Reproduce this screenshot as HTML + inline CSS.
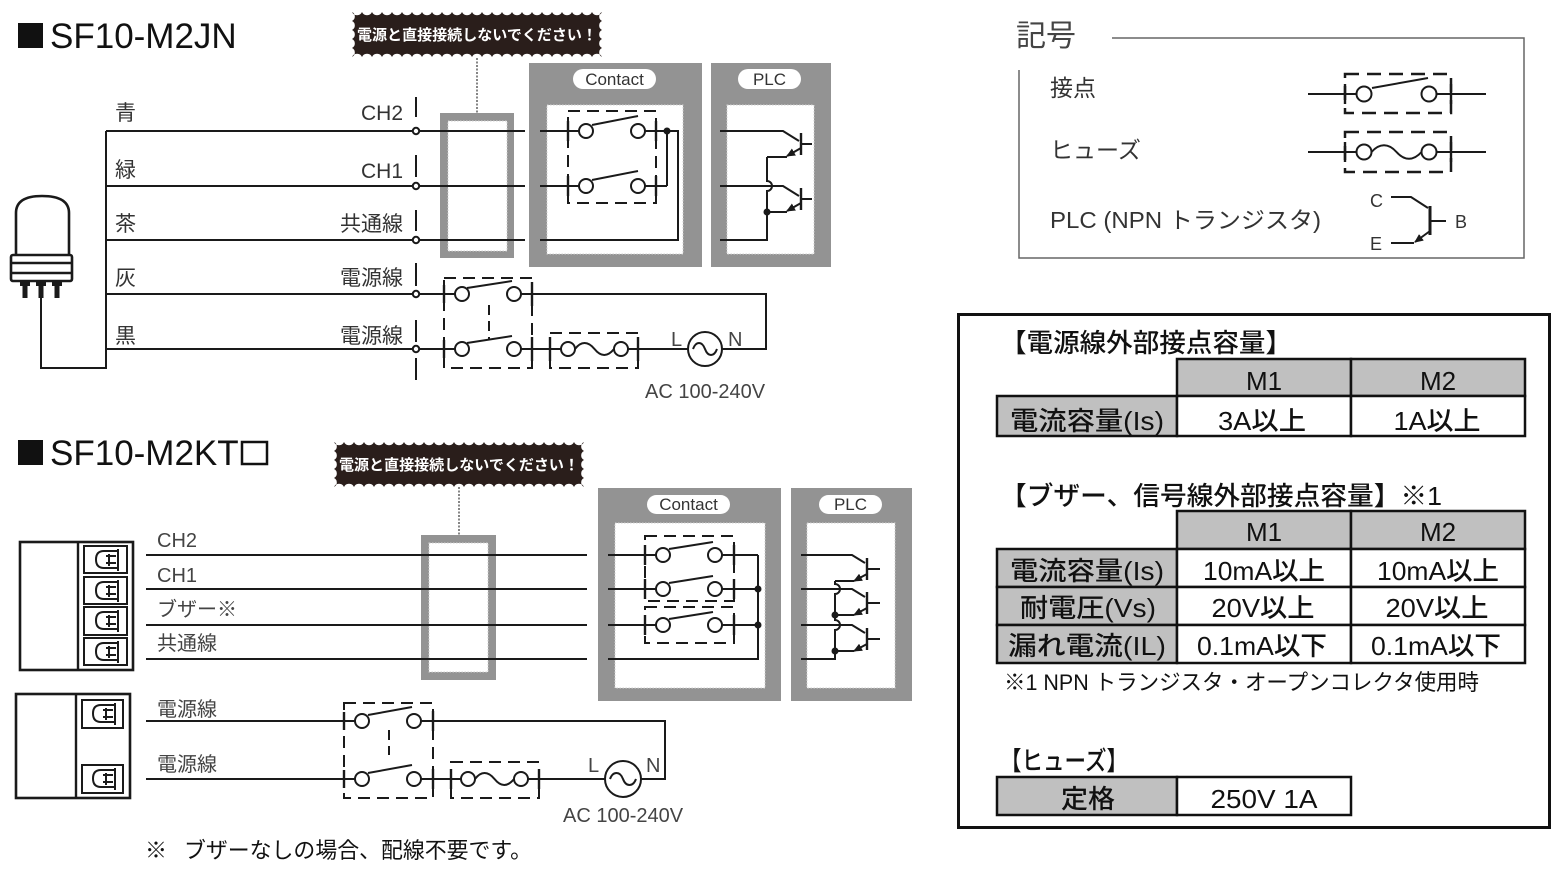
<!DOCTYPE html>
<html><head><meta charset="utf-8">
<style>
html,body{margin:0;padding:0;background:#fff;}
svg{display:block;}
text{font-family:"Liberation Sans","Noto Sans CJK JP",sans-serif;}
.w{fill:none;stroke:#1a1a1a;stroke-width:2;}
.t{fill:none;stroke:#1a1a1a;stroke-width:2.4;}
.d{fill:none;stroke:#1a1a1a;stroke-width:2;stroke-dasharray:12 7;}
.c{fill:#fff;stroke:#1a1a1a;stroke-width:2;}
.g{fill:#939393;}
.in{fill:#fff;stroke:#d0d0d0;stroke-width:1;stroke-dasharray:1.5 1.5;}
.lb{font-size:21px;fill:#333;}
.lb2{font-size:20px;fill:#444;}
.bub{fill:#2a1e1b;}
.bt{font-size:15px;font-weight:bold;fill:#fff;}
.pill{fill:#fff;}
.pt{font-size:17px;fill:#333;}
.tb{stroke:#111;stroke-width:2.5;}
.gc{fill:#c0c0c0;}
.wc{fill:#fff;}
.tt{font-size:26px;fill:#111;font-weight:500;}
.lg{font-size:23px;fill:#333;}
</style></head><body>
<svg width="1562" height="880" viewBox="0 0 1562 880" xmlns="http://www.w3.org/2000/svg">
<defs>
<marker id="ar" markerWidth="9" markerHeight="8" refX="8" refY="4" orient="auto" markerUnits="userSpaceOnUse"><path d="M0,0L9,4L0,8Z" fill="#1a1a1a"/></marker>
<marker id="ad" markerWidth="7" markerHeight="6" refX="6" refY="3" orient="auto" markerUnits="userSpaceOnUse"><path d="M0,0L7,3L0,6Z" fill="#444"/></marker>
</defs>
<rect width="1562" height="880" fill="#fff"/>

<!-- ===== TOP TITLE ===== -->
<rect x="18" y="23" width="25" height="25" fill="#111"/>
<text x="50" y="48" font-size="35" fill="#111">SF10-M2JN</text>

<!-- bubble 1 -->
<path class="bub" d="M352,12
a5.5 5.5 0 0 0 10 0a5.5 5.5 0 0 0 10 0a5.5 5.5 0 0 0 10 0a5.5 5.5 0 0 0 10 0a5.5 5.5 0 0 0 10 0
a5.5 5.5 0 0 0 10 0a5.5 5.5 0 0 0 10 0a5.5 5.5 0 0 0 10 0a5.5 5.5 0 0 0 10 0a5.5 5.5 0 0 0 10 0
a5.5 5.5 0 0 0 10 0a5.5 5.5 0 0 0 10 0a5.5 5.5 0 0 0 10 0a5.5 5.5 0 0 0 10 0a5.5 5.5 0 0 0 10 0
a5.5 5.5 0 0 0 10 0a5.5 5.5 0 0 0 10 0a5.5 5.5 0 0 0 10 0a5.5 5.5 0 0 0 10 0a5.5 5.5 0 0 0 10 0
a5.5 5.5 0 0 0 10 0a5.5 5.5 0 0 0 10 0a5.5 5.5 0 0 0 10 0a5.5 5.5 0 0 0 10 0a5.5 5.5 0 0 0 10 0
a5 5 0 0 0 0 9a5 5 0 0 0 0 9a5 5 0 0 0 0 9a5 5 0 0 0 0 9a5 5 0 0 0 0 9
a5.5 5.5 0 0 0 -10 0a5.5 5.5 0 0 0 -10 0a5.5 5.5 0 0 0 -10 0a5.5 5.5 0 0 0 -10 0a5.5 5.5 0 0 0 -10 0
a5.5 5.5 0 0 0 -10 0a5.5 5.5 0 0 0 -10 0a5.5 5.5 0 0 0 -10 0a5.5 5.5 0 0 0 -10 0a5.5 5.5 0 0 0 -10 0
a5.5 5.5 0 0 0 -10 0a5.5 5.5 0 0 0 -10 0a5.5 5.5 0 0 0 -10 0a5.5 5.5 0 0 0 -10 0a5.5 5.5 0 0 0 -10 0
a5.5 5.5 0 0 0 -10 0a5.5 5.5 0 0 0 -10 0a5.5 5.5 0 0 0 -10 0a5.5 5.5 0 0 0 -10 0a5.5 5.5 0 0 0 -10 0
a5.5 5.5 0 0 0 -10 0a5.5 5.5 0 0 0 -10 0a5.5 5.5 0 0 0 -10 0a5.5 5.5 0 0 0 -10 0a5.5 5.5 0 0 0 -10 0
a5 5 0 0 0 0 -9a5 5 0 0 0 0 -9a5 5 0 0 0 0 -9a5 5 0 0 0 0 -9a5 5 0 0 0 0 -9Z"/>
<text class="bt" x="477" y="40" text-anchor="middle" textLength="240" lengthAdjust="spacingAndGlyphs">電源と直接接続しないでください！</text>
<line x1="477" y1="58" x2="477" y2="120" stroke="#444" stroke-width="1.3" stroke-dasharray="2 1.5" marker-end="url(#ad)"/>

<!-- lamp -->
<path d="M16,255 V213 Q16,196 42,196 Q69,196 69,213 V255" fill="#fff" stroke="#1a1a1a" stroke-width="2.6"/>
<rect x="11" y="255" width="61" height="26" rx="2" fill="#fff" stroke="#1a1a1a" stroke-width="2.6"/>
<line x1="11" y1="263" x2="72" y2="263" stroke="#1a1a1a" stroke-width="2.4"/>
<line x1="11" y1="273" x2="72" y2="273" stroke="#1a1a1a" stroke-width="2.4"/>
<rect x="20" y="282" width="10" height="4" fill="#1a1a1a"/><rect x="22.5" y="285" width="5" height="13" fill="#1a1a1a"/>
<rect x="36" y="282" width="10" height="4" fill="#1a1a1a"/><rect x="38.5" y="285" width="5" height="13" fill="#1a1a1a"/>
<rect x="52" y="282" width="10" height="4" fill="#1a1a1a"/><rect x="54.5" y="285" width="5" height="13" fill="#1a1a1a"/>
<path class="w" d="M41,298 V368 H106 V131"/>

<!-- top wires -->
<path class="w" d="M106,131 H413 M106,186 H413 M106,240 H413 M106,294 H413 M106,349 H413"/>
<text class="lb" x="115" y="120">青</text>
<text class="lb" x="115" y="177">緑</text>
<text class="lb" x="115" y="231">茶</text>
<text class="lb" x="115" y="285">灰</text>
<text class="lb" x="115" y="343">黒</text>
<text class="lb" x="403" y="120" text-anchor="end">CH2</text>
<text class="lb" x="403" y="178" text-anchor="end">CH1</text>
<text class="lb" x="403" y="231" text-anchor="end">共通線</text>
<text class="lb" x="403" y="285" text-anchor="end">電源線</text>
<text class="lb" x="403" y="343" text-anchor="end">電源線</text>
<path class="w" d="M416,97 V117 M416,155 V177 M416,210 V231 M416,263 V286 M416,320 V342 M416,358 V380"/>

<!-- gray box 1 -->
<rect class="g" x="440" y="113" width="74" height="145"/>
<rect class="in" x="448" y="121" width="59" height="130"/>
<!-- contact box -->
<rect class="g" x="529" y="63" width="173" height="204"/>
<rect class="in" x="547" y="105" width="136" height="149"/>
<rect class="pill" x="573" y="69" width="83" height="20" rx="10"/>
<text class="pt" x="614.5" y="85" text-anchor="middle">Contact</text>
<!-- plc box -->
<rect class="g" x="711" y="63" width="120" height="204"/>
<rect class="in" x="727" y="105" width="87" height="149"/>
<rect class="pill" x="738" y="69" width="63" height="20" rx="10"/>
<text class="pt" x="769.5" y="85" text-anchor="middle">PLC</text>

<path class="w" d="M419,131 H525 M419,186 H525 M419,240 H525"/>
<circle class="c" cx="416" cy="131" r="3.2"/>
<circle class="c" cx="416" cy="186" r="3.2"/>
<circle class="c" cx="416" cy="240" r="3.2"/>
<circle class="c" cx="416" cy="294" r="3.2"/>
<circle class="c" cx="416" cy="349" r="3.2"/>

<!-- top contacts -->
<rect class="d" x="568" y="111" width="88" height="92"/>
<path class="w" d="M540,131 H579 M645,131 H678 V240 H540 M667,131 V186 M540,186 H579 M645,186 H667"/>
<path class="w" d="M592,125 L638,116 M592,180 L638,171"/>
<path class="t" d="M568,121 V141 M568,176 V196 M656,121 V141 M656,176 V196"/>
<circle class="c" cx="586" cy="131" r="7"/><circle class="c" cx="638" cy="131" r="7"/>
<circle class="c" cx="586" cy="186" r="7"/><circle class="c" cx="638" cy="186" r="7"/>
<circle cx="667" cy="131" r="3.5" fill="#1a1a1a"/>

<!-- top PLC -->
<path class="w" d="M720,131 H783 L799,141 M801,144 H812 M720,186 H783 L799,196 M801,199 H812"/>
<path class="t" d="M801,133 V155 M801,188 V210"/>
<path class="w" d="M801,148 L787,156" marker-end="url(#ar)"/>
<path class="w" d="M801,203 L787,211" marker-end="url(#ar)"/>
<path class="w" d="M787,157 H767 M787,212 H767 M767,157 V181 a5 5 0 0 1 0 10 V240 H720"/>
<circle cx="767" cy="212" r="3.5" fill="#1a1a1a"/>

<!-- top power -->
<rect class="d" x="444" y="278" width="88" height="90"/>
<line x1="489" y1="305" x2="489" y2="340" stroke="#1a1a1a" stroke-width="2" stroke-dasharray="10 6"/>
<rect class="d" x="550" y="333" width="88" height="35"/>
<path class="w" d="M419,294 H455 M521,294 H766 V349 H722 M419,349 H455 M521,349 H561 M628,349 H688"/>
<path class="w" d="M467,288 L512,281 M467,343 L512,336"/>
<path class="t" d="M444,285 V303 M532,282 V306 M444,340 V358 M532,337 V361 M550,337 V361 M638,337 V361"/>
<circle class="c" cx="462" cy="294" r="7"/><circle class="c" cx="514" cy="294" r="7"/>
<circle class="c" cx="462" cy="349" r="7"/><circle class="c" cx="514" cy="349" r="7"/>
<circle class="c" cx="568" cy="349" r="7"/><circle class="c" cx="621" cy="349" r="7"/>
<path class="w" d="M575,349 c6,-8 13,-8 19.5,0 s13,8 19.5,0"/>
<circle class="c" cx="705" cy="349" r="17"/>
<path class="w" d="M693,349 c3,-8 9,-8 12,0 s9,8 12,0"/>
<text class="lb2" x="671" y="346" font-size="19">L</text>
<text class="lb2" x="728" y="346" font-size="19">N</text>
<text class="lb2" x="645" y="398" font-size="20">AC 100-240V</text>

<!-- ===== BOTTOM TITLE ===== -->
<rect x="18" y="440" width="25" height="25" fill="#111"/>
<text x="50" y="465" font-size="35" fill="#111">SF10-M2KT</text>
<rect x="242" y="442" width="25" height="22" fill="none" stroke="#111" stroke-width="2.5"/>

<!-- bubble 2 -->
<path class="bub" d="M334,442
a5.5 5.5 0 0 0 10 0a5.5 5.5 0 0 0 10 0a5.5 5.5 0 0 0 10 0a5.5 5.5 0 0 0 10 0a5.5 5.5 0 0 0 10 0
a5.5 5.5 0 0 0 10 0a5.5 5.5 0 0 0 10 0a5.5 5.5 0 0 0 10 0a5.5 5.5 0 0 0 10 0a5.5 5.5 0 0 0 10 0
a5.5 5.5 0 0 0 10 0a5.5 5.5 0 0 0 10 0a5.5 5.5 0 0 0 10 0a5.5 5.5 0 0 0 10 0a5.5 5.5 0 0 0 10 0
a5.5 5.5 0 0 0 10 0a5.5 5.5 0 0 0 10 0a5.5 5.5 0 0 0 10 0a5.5 5.5 0 0 0 10 0a5.5 5.5 0 0 0 10 0
a5.5 5.5 0 0 0 10 0a5.5 5.5 0 0 0 10 0a5.5 5.5 0 0 0 10 0a5.5 5.5 0 0 0 10 0a5.5 5.5 0 0 0 10 0
a5 5 0 0 0 0 9a5 5 0 0 0 0 9a5 5 0 0 0 0 9a5 5 0 0 0 0 9a5 5 0 0 0 0 9
a5.5 5.5 0 0 0 -10 0a5.5 5.5 0 0 0 -10 0a5.5 5.5 0 0 0 -10 0a5.5 5.5 0 0 0 -10 0a5.5 5.5 0 0 0 -10 0
a5.5 5.5 0 0 0 -10 0a5.5 5.5 0 0 0 -10 0a5.5 5.5 0 0 0 -10 0a5.5 5.5 0 0 0 -10 0a5.5 5.5 0 0 0 -10 0
a5.5 5.5 0 0 0 -10 0a5.5 5.5 0 0 0 -10 0a5.5 5.5 0 0 0 -10 0a5.5 5.5 0 0 0 -10 0a5.5 5.5 0 0 0 -10 0
a5.5 5.5 0 0 0 -10 0a5.5 5.5 0 0 0 -10 0a5.5 5.5 0 0 0 -10 0a5.5 5.5 0 0 0 -10 0a5.5 5.5 0 0 0 -10 0
a5.5 5.5 0 0 0 -10 0a5.5 5.5 0 0 0 -10 0a5.5 5.5 0 0 0 -10 0a5.5 5.5 0 0 0 -10 0a5.5 5.5 0 0 0 -10 0
a5 5 0 0 0 0 -9a5 5 0 0 0 0 -9a5 5 0 0 0 0 -9a5 5 0 0 0 0 -9a5 5 0 0 0 0 -9Z"/>
<text class="bt" x="459" y="470" text-anchor="middle" textLength="240" lengthAdjust="spacingAndGlyphs">電源と直接接続しないでください！</text>
<line x1="459" y1="487" x2="459" y2="543" stroke="#444" stroke-width="1.3" stroke-dasharray="2 1.5" marker-end="url(#ad)"/>

<!-- connector blocks -->
<rect x="20" y="542" width="113" height="128" fill="#fff" stroke="#1a1a1a" stroke-width="2.6"/>
<line x1="78" y1="542" x2="78" y2="670" stroke="#1a1a1a" stroke-width="2.4"/>
<g fill="none" stroke="#1a1a1a" stroke-width="2">
<rect x="84" y="546" width="43" height="27"/><rect x="84" y="577" width="43" height="27"/><rect x="84" y="607" width="43" height="28"/><rect x="84" y="638" width="43" height="27"/>
<path d="M118,551 H104 Q96,551 96,559.5 Q96,568 104,568 H118 Z M106,556 H116 M106,563 H116 M109,554 V566 M118,549 V571"/>
<path d="M118,582 H104 Q96,582 96,590.5 Q96,599 104,599 H118 Z M106,587 H116 M106,594 H116 M109,585 V597 M118,580 V602"/>
<path d="M118,612 H104 Q96,612 96,620.5 Q96,629 104,629 H118 Z M106,617 H116 M106,624 H116 M109,615 V627 M118,610 V632"/>
<path d="M118,643 H104 Q96,643 96,651.5 Q96,660 104,660 H118 Z M106,648 H116 M106,655 H116 M109,646 V658 M118,641 V663"/>
</g>
<rect x="16" y="694" width="114" height="104" fill="#fff" stroke="#1a1a1a" stroke-width="2.6"/>
<line x1="76" y1="694" x2="76" y2="798" stroke="#1a1a1a" stroke-width="2.4"/>
<g fill="none" stroke="#1a1a1a" stroke-width="2">
<rect x="82" y="700" width="41" height="28"/><rect x="82" y="765" width="41" height="28"/>
<path d="M115,705 H101 Q93,705 93,713.5 Q93,722 101,722 H115 Z M103,710 H113 M103,717 H113 M106,708 V720 M115,703 V725"/>
<path d="M115,770 H101 Q93,770 93,778.5 Q93,787 101,787 H115 Z M103,775 H113 M103,782 H113 M106,773 V785 M115,768 V790"/>
</g>

<!-- bottom gray box -->
<rect class="g" x="421" y="535" width="75" height="145"/>
<rect class="in" x="429" y="543" width="59" height="129"/>
<path class="w" d="M146,555 H587 M146,589 H587 M146,625 H587 M146,659 H587"/>
<text class="lb2" x="157" y="547">CH2</text>
<text class="lb2" x="157" y="582">CH1</text>
<text class="lb2" x="157" y="616">ブザー※</text>
<text class="lb2" x="157" y="650">共通線</text>

<!-- bottom contact box -->
<rect class="g" x="598" y="488" width="183" height="213"/>
<rect class="in" x="615" y="523" width="150" height="165"/>
<rect class="pill" x="647" y="495" width="83" height="19" rx="9.5"/>
<text class="pt" x="688.5" y="510" text-anchor="middle">Contact</text>
<rect class="g" x="791" y="488" width="121" height="213"/>
<rect class="in" x="807" y="523" width="88" height="165"/>
<rect class="pill" x="819" y="495" width="63" height="19" rx="9.5"/>
<text class="pt" x="850.5" y="510" text-anchor="middle">PLC</text>

<rect class="d" x="645" y="536" width="89" height="65"/>
<rect class="d" x="645" y="607" width="89" height="36"/>
<path class="w" d="M608,555 H656 M722,555 H758 M608,589 H656 M722,589 H758 M608,625 H656 M722,625 H758 M758,555 V659 H608"/>
<path class="w" d="M669,549 L713,542 M669,583 L713,576 M669,619 L713,612"/>
<path class="t" d="M645,545 V565 M645,579 V599 M645,615 V635 M734,545 V565 M734,579 V599 M734,615 V635"/>
<circle class="c" cx="663" cy="555" r="7"/><circle class="c" cx="715" cy="555" r="7"/>
<circle class="c" cx="663" cy="589" r="7"/><circle class="c" cx="715" cy="589" r="7"/>
<circle class="c" cx="663" cy="625" r="7"/><circle class="c" cx="715" cy="625" r="7"/>
<circle cx="758" cy="589" r="3.5" fill="#1a1a1a"/><circle cx="758" cy="625" r="3.5" fill="#1a1a1a"/>

<!-- bottom PLC -->
<path class="w" d="M801,555 H852 L865,563 M867,569 H880 M801,589 H852 L865,597 M867,603 H880 M801,625 H852 L865,633 M867,639 H880"/>
<path class="t" d="M867,558 V580 M867,592 V614 M867,628 V650"/>
<path class="w" d="M867,574 L854,581" marker-end="url(#ar)"/>
<path class="w" d="M867,608 L854,615" marker-end="url(#ar)"/>
<path class="w" d="M867,644 L854,651" marker-end="url(#ar)"/>
<path class="w" d="M854,581 H835 M854,615 H835 M854,651 H835 M835,581 V584 a5 5 0 0 1 0 10 V620 a5 5 0 0 1 0 10 V659 H801"/>
<circle cx="835" cy="615" r="3.5" fill="#1a1a1a"/><circle cx="835" cy="651" r="3.5" fill="#1a1a1a"/>

<!-- bottom power -->
<text class="lb2" x="157" y="716" font-size="21">電源線</text>
<text class="lb2" x="157" y="771" font-size="21">電源線</text>
<rect class="d" x="344" y="703" width="89" height="95"/>
<line x1="389" y1="730" x2="389" y2="755" stroke="#1a1a1a" stroke-width="2" stroke-dasharray="10 6"/>
<rect class="d" x="451" y="762" width="88" height="36"/>
<path class="w" d="M146,721 H355 M421,721 H665 V779 H641 M146,779 H355 M421,779 H461 M528,779 H605"/>
<path class="w" d="M368,715 L412,707 M368,773 L412,765"/>
<path class="t" d="M344,712 V730 M433,711 V731 M344,770 V788 M433,769 V789 M451,769 V789 M539,769 V789"/>
<circle class="c" cx="362" cy="721" r="7"/><circle class="c" cx="414" cy="721" r="7"/>
<circle class="c" cx="362" cy="779" r="7"/><circle class="c" cx="414" cy="779" r="7"/>
<circle class="c" cx="468" cy="779" r="7"/><circle class="c" cx="521" cy="779" r="7"/>
<path class="w" d="M475,779 c6,-8 13,-8 19.5,0 s13,8 19.5,0"/>
<circle class="c" cx="623" cy="779" r="18"/>
<path class="w" d="M610,779 c3,-8 10,-8 13,0 s10,8 13,0"/>
<text class="lb2" x="588" y="772" font-size="19">L</text>
<text class="lb2" x="646" y="772" font-size="19">N</text>
<text class="lb2" x="563" y="822" font-size="20">AC 100-240V</text>

<text x="145" y="858" font-size="22" fill="#111">※</text>
<text x="184" y="858" font-size="22" fill="#111" textLength="348" lengthAdjust="spacingAndGlyphs">ブザーなしの場合、配線不要です。</text>

<!-- ===== LEGEND ===== -->
<text x="1016" y="46" font-size="30" fill="#444">記号</text>
<path d="M1112,38 H1524 V258 H1019 V70" fill="none" stroke="#666" stroke-width="1.5"/>
<text class="lg" x="1050" y="96">接点</text>
<text class="lg" x="1050" y="158">ヒューズ</text>
<text class="lg" x="1050" y="228" textLength="271" lengthAdjust="spacingAndGlyphs">PLC (NPN トランジスタ)</text>

<rect x="1345" y="74" width="106" height="39" fill="none" stroke="#1a1a1a" stroke-width="2.5" stroke-dasharray="14 8"/>
<path class="w" d="M1308,94 H1357 M1436,94 H1486 M1372,88 L1428,78"/>
<path class="t" d="M1345,84 V104 M1451,84 V104"/>
<circle class="c" cx="1364" cy="94" r="7.5"/><circle class="c" cx="1429" cy="94" r="7.5"/>

<rect x="1345" y="132" width="106" height="40" fill="none" stroke="#1a1a1a" stroke-width="2.5" stroke-dasharray="14 8"/>
<path class="w" d="M1308,152 H1357 M1436,152 H1486 M1371.5,152 c8,-9 17,-9 25,0 s17,9 25,0"/>
<path class="t" d="M1345,142 V162 M1451,142 V162"/>
<circle class="c" cx="1364" cy="152" r="7.5"/><circle class="c" cx="1429" cy="152" r="7.5"/>

<text x="1370" y="207" font-size="18" fill="#333">C</text>
<text x="1370" y="250" font-size="18" fill="#333">E</text>
<text x="1455" y="228" font-size="18" fill="#333">B</text>
<path class="w" d="M1391,197 H1411 L1428,208 M1430,221 H1446"/>
<path d="M1430,206 V235" stroke="#1a1a1a" stroke-width="3"/>
<path class="w" d="M1430,231 L1415,242" marker-end="url(#ar)"/>
<path class="w" d="M1414,243 H1391"/>

<!-- ===== TABLE ===== -->
<rect x="958.5" y="314.5" width="591" height="513" fill="none" stroke="#111" stroke-width="3"/>
<text class="tt" x="1000" y="352" textLength="292" lengthAdjust="spacingAndGlyphs">【電源線外部接点容量】</text>
<g class="tb">
<rect class="gc" x="1177" y="359" width="174" height="37"/>
<rect class="gc" x="1351" y="359" width="174" height="37"/>
<rect class="gc" x="997" y="396" width="180" height="40"/>
<rect class="wc" x="1177" y="396" width="174" height="40"/>
<rect class="wc" x="1351" y="396" width="174" height="40"/>
</g>
<text class="tt" x="1264" y="390" text-anchor="middle">M1</text>
<text class="tt" x="1438" y="390" text-anchor="middle">M2</text>
<text class="tt" x="1087" y="430" text-anchor="middle" textLength="154" lengthAdjust="spacingAndGlyphs">電流容量(Is)</text>
<text class="tt" x="1262" y="430" text-anchor="middle" textLength="88" lengthAdjust="spacingAndGlyphs">3A以上</text>
<text class="tt" x="1437" y="430" text-anchor="middle" textLength="87" lengthAdjust="spacingAndGlyphs">1A以上</text>

<text class="tt" x="1000" y="505" textLength="442" lengthAdjust="spacingAndGlyphs">【ブザー、信号線外部接点容量】※1</text>
<g class="tb">
<rect class="gc" x="1177" y="511" width="174" height="38"/>
<rect class="gc" x="1351" y="511" width="174" height="38"/>
<rect class="gc" x="997" y="549" width="180" height="38"/>
<rect class="wc" x="1177" y="549" width="174" height="38"/>
<rect class="wc" x="1351" y="549" width="174" height="38"/>
<rect class="gc" x="997" y="587" width="180" height="38"/>
<rect class="wc" x="1177" y="587" width="174" height="38"/>
<rect class="wc" x="1351" y="587" width="174" height="38"/>
<rect class="gc" x="997" y="625" width="180" height="38"/>
<rect class="wc" x="1177" y="625" width="174" height="38"/>
<rect class="wc" x="1351" y="625" width="174" height="38"/>
</g>
<text class="tt" x="1264" y="541" text-anchor="middle">M1</text>
<text class="tt" x="1438" y="541" text-anchor="middle">M2</text>
<text class="tt" x="1087" y="580" text-anchor="middle" textLength="154" lengthAdjust="spacingAndGlyphs">電流容量(Is)</text>
<text class="tt" x="1264" y="580" text-anchor="middle" textLength="122" lengthAdjust="spacingAndGlyphs">10mA以上</text>
<text class="tt" x="1438" y="580" text-anchor="middle" textLength="122" lengthAdjust="spacingAndGlyphs">10mA以上</text>
<text class="tt" x="1088" y="617" text-anchor="middle" textLength="136" lengthAdjust="spacingAndGlyphs">耐電圧(Vs)</text>
<text class="tt" x="1263" y="617" text-anchor="middle" textLength="103" lengthAdjust="spacingAndGlyphs">20V以上</text>
<text class="tt" x="1437" y="617" text-anchor="middle" textLength="103" lengthAdjust="spacingAndGlyphs">20V以上</text>
<text class="tt" x="1087" y="655" text-anchor="middle" textLength="158" lengthAdjust="spacingAndGlyphs">漏れ電流(IL)</text>
<text class="tt" x="1262" y="655" text-anchor="middle" textLength="130" lengthAdjust="spacingAndGlyphs">0.1mA以下</text>
<text class="tt" x="1436" y="655" text-anchor="middle" textLength="130" lengthAdjust="spacingAndGlyphs">0.1mA以下</text>

<text x="1004" y="690" font-size="22" fill="#111" textLength="475" lengthAdjust="spacingAndGlyphs">※1 NPN トランジスタ・オープンコレクタ使用時</text>

<text class="tt" x="1000" y="770" textLength="128" lengthAdjust="spacingAndGlyphs">【ヒューズ】</text>
<g class="tb">
<rect class="gc" x="997" y="777" width="180" height="38"/>
<rect class="wc" x="1177" y="777" width="174" height="38"/>
</g>
<text class="tt" x="1088" y="808" text-anchor="middle" textLength="54" lengthAdjust="spacingAndGlyphs">定格</text>
<text class="tt" x="1264" y="808" text-anchor="middle" textLength="107" lengthAdjust="spacingAndGlyphs">250V 1A</text>
</svg>
</body></html>
